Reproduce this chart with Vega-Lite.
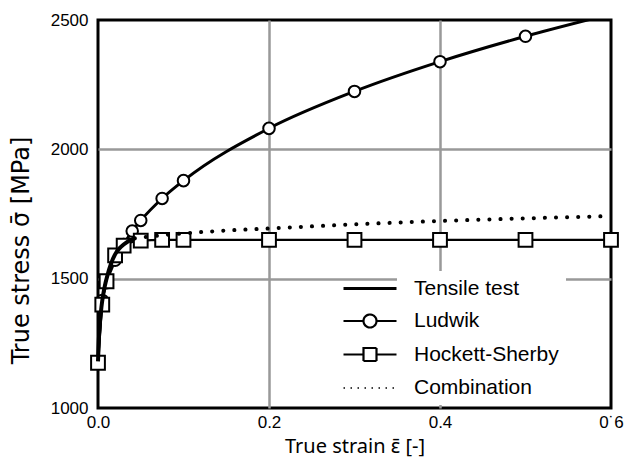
{
  "$schema": "https://vega.github.io/schema/vega-lite/v6.json",
  "width": 513,
  "height": 388,
  "autosize": {"type": "none"},
  "padding": {"left": 98, "top": 20, "right": 14, "bottom": 63},
  "background": "white",
  "config": {"font": "Liberation Sans", "view": {"stroke": "black", "strokeWidth": 3}},
  "data": {
    "values": [
      {"series": "Tensile test", "strain": 0, "stress": 1180},
      {"series": "Tensile test", "strain": 0.001, "stress": 1265},
      {"series": "Tensile test", "strain": 0.002, "stress": 1318},
      {"series": "Tensile test", "strain": 0.004, "stress": 1390},
      {"series": "Tensile test", "strain": 0.006, "stress": 1437},
      {"series": "Tensile test", "strain": 0.008, "stress": 1472},
      {"series": "Tensile test", "strain": 0.01, "stress": 1500},
      {"series": "Tensile test", "strain": 0.015, "stress": 1556},
      {"series": "Tensile test", "strain": 0.02, "stress": 1594},
      {"series": "Tensile test", "strain": 0.025, "stress": 1617},
      {"series": "Tensile test", "strain": 0.03, "stress": 1632},
      {"series": "Tensile test", "strain": 0.035, "stress": 1644},
      {"series": "Tensile test", "strain": 0.04, "stress": 1652},
      {"series": "Tensile test", "strain": 0.043, "stress": 1656},
      {"series": "Ludwik", "strain": 0, "stress": 1180},
      {"series": "Ludwik", "strain": 0.005, "stress": 1416},
      {"series": "Ludwik", "strain": 0.01, "stress": 1484},
      {"series": "Ludwik", "strain": 0.02, "stress": 1571},
      {"series": "Ludwik", "strain": 0.03, "stress": 1632},
      {"series": "Ludwik", "strain": 0.04, "stress": 1684},
      {"series": "Ludwik", "strain": 0.05, "stress": 1725},
      {"series": "Ludwik", "strain": 0.075, "stress": 1810},
      {"series": "Ludwik", "strain": 0.1, "stress": 1879},
      {"series": "Ludwik", "strain": 0.2, "stress": 2081},
      {"series": "Ludwik", "strain": 0.3, "stress": 2224},
      {"series": "Ludwik", "strain": 0.4, "stress": 2339},
      {"series": "Ludwik", "strain": 0.5, "stress": 2437},
      {"series": "Ludwik", "strain": 0.6, "stress": 2523},
      {"series": "Hockett-Sherby", "strain": 0, "stress": 1175},
      {"series": "Hockett-Sherby", "strain": 0.005, "stress": 1400},
      {"series": "Hockett-Sherby", "strain": 0.01, "stress": 1490},
      {"series": "Hockett-Sherby", "strain": 0.02, "stress": 1590},
      {"series": "Hockett-Sherby", "strain": 0.03, "stress": 1628},
      {"series": "Hockett-Sherby", "strain": 0.05, "stress": 1647},
      {"series": "Hockett-Sherby", "strain": 0.075, "stress": 1650},
      {"series": "Hockett-Sherby", "strain": 0.1, "stress": 1650},
      {"series": "Hockett-Sherby", "strain": 0.2, "stress": 1650},
      {"series": "Hockett-Sherby", "strain": 0.3, "stress": 1650},
      {"series": "Hockett-Sherby", "strain": 0.4, "stress": 1650},
      {"series": "Hockett-Sherby", "strain": 0.5, "stress": 1650},
      {"series": "Hockett-Sherby", "strain": 0.6, "stress": 1650},
      {"series": "Combination", "strain": 0.043, "stress": 1656},
      {"series": "Combination", "strain": 0.05, "stress": 1659},
      {"series": "Combination", "strain": 0.075, "stress": 1668},
      {"series": "Combination", "strain": 0.1, "stress": 1675},
      {"series": "Combination", "strain": 0.15, "stress": 1686},
      {"series": "Combination", "strain": 0.2, "stress": 1694},
      {"series": "Combination", "strain": 0.3, "stress": 1710},
      {"series": "Combination", "strain": 0.4, "stress": 1723},
      {"series": "Combination", "strain": 0.5, "stress": 1733},
      {"series": "Combination", "strain": 0.6, "stress": 1742}
    ]
  },
  "encoding": {
    "x": {
      "field": "strain", "type": "quantitative",
      "scale": {"domain": [0, 0.6], "nice": false, "zero": false},
      "axis": {
        "title": "True strain \u03b5\u0304 [-]",
        "values": [0, 0.2, 0.4, 0.6],
        "labelExpr": "datum.value >= 0.59 ? '0\u02d96' : format(datum.value, '.1f')",
        "ticks": false, "domain": false, "grid": true,
        "gridColor": "#999999", "gridWidth": 2.5,
        "gridOpacity": {"condition": {"test": "datum.value <= 0.01 || datum.value >= 0.59", "value": 0}, "value": 1},
        "labelFontSize": 17, "labelColor": "black", "labelPadding": 6, "labelFlush": false,
        "titleFont": "Noto Sans", "titleFontSize": 20, "titleFontWeight": "normal", "titleColor": "black", "titlePadding": 6
      }
    },
    "y": {
      "field": "stress", "type": "quantitative",
      "scale": {"domain": [1000, 2500], "nice": false, "zero": false},
      "axis": {
        "title": "True stress \u03c3\u0304 [MPa]",
        "values": [1000, 1500, 2000, 2500],
        "format": "d",
        "ticks": false, "domain": false, "grid": true,
        "gridColor": "#999999", "gridWidth": 2.5,
        "gridOpacity": {"condition": {"test": "datum.value <= 1000 || datum.value >= 2500", "value": 0}, "value": 1},
        "labelFontSize": 17, "labelColor": "black", "labelPadding": 10,
        "titleFont": "DejaVu Sans", "titleFontSize": 24, "titleFontWeight": "normal", "titleColor": "black",
        "titleX": -70, "titleY": 230, "titleAngle": -90, "titleAlign": "center", "titleBaseline": "alphabetic"
      }
    }
  },
  "layer": [
    {
      "transform": [{"filter": "datum.series === 'Ludwik'"}],
      "mark": {"type": "line", "strokeWidth": 3, "interpolate": "monotone", "clip": true},
      "encoding": {
        "color": {
          "field": "series", "type": "nominal",
          "scale": {"domain": ["Tensile test", "Ludwik", "Hockett-Sherby", "Combination"], "range": ["black", "black", "black", "black"]},
          "legend": {
            "orient": "none", "legendX": 299, "legendY": 251,
            "title": null,
            "padding": 7, "fillColor": "white", "strokeColor": null,
            "symbolSize": 256, "symbolStrokeWidth": 2, "labelOffset": -11, "rowPadding": 10.5,
            "labelFontSize": 21, "labelColor": "black", "labelLimit": 300,
            "encode": {
              "symbols": {
                "update": {
                  "shape": {"signal": "datum.value === 'Ludwik' ? 'M-8.875,0H-6.375M-4.75,0H-2.25M-6.375,0A0.8125,0.8125,0,1,1,-4.75,0A0.8125,0.8125,0,1,1,-6.375,0Z' : datum.value === 'Hockett-Sherby' ? 'M-8.875,0H-6.375M-4.75,0H-2.25M-6.375,-0.8125H-4.75V0.8125H-6.375Z' : 'M-8.875,0H-2.25'"},
                  "fill": {"signal": "datum.value === 'Ludwik' || datum.value === 'Hockett-Sherby' ? '#ffffff' : 'transparent'"},
                  "stroke": {"value": "black"},
                  "strokeWidth": {"signal": "datum.value === 'Tensile test' ? 3 : datum.value === 'Combination' ? 1.5 : 2.2"},
                  "strokeDash": {"signal": "datum.value === 'Combination' ? [1.5, 5.5] : [1, 0]"},
                  "opacity": {"value": 1}
                }
              }
            }
          }
        }
      }
    },
    {
      "transform": [{"filter": "datum.series === 'Ludwik' && datum.stress <= 2500"}],
      "mark": {"type": "point", "shape": "circle", "size": 133, "filled": true, "fill": "white", "stroke": "black", "strokeWidth": 2, "opacity": 1}
    },
    {
      "transform": [{"filter": "datum.series === 'Hockett-Sherby'"}],
      "mark": {"type": "line", "strokeWidth": 2.2, "interpolate": "monotone"},
      "encoding": {
        "color": {
          "field": "series", "type": "nominal",
          "scale": {"domain": ["Tensile test", "Ludwik", "Hockett-Sherby", "Combination"], "range": ["black", "black", "black", "black"]}
        }
      }
    },
    {
      "transform": [{"filter": "datum.series === 'Hockett-Sherby'"}],
      "mark": {"type": "point", "shape": "square", "size": 190, "filled": true, "fill": "white", "stroke": "black", "strokeWidth": 2, "opacity": 1}
    },
    {
      "transform": [{"filter": "datum.series === 'Combination'"}],
      "mark": {"type": "line", "strokeWidth": 4, "strokeDash": [0.1, 11], "strokeCap": "round", "interpolate": "monotone"},
      "encoding": {
        "color": {
          "field": "series", "type": "nominal",
          "scale": {"domain": ["Tensile test", "Ludwik", "Hockett-Sherby", "Combination"], "range": ["black", "black", "black", "black"]}
        }
      }
    },
    {
      "transform": [{"filter": "datum.series === 'Tensile test'"}],
      "mark": {"type": "line", "strokeWidth": 4, "interpolate": "monotone"},
      "encoding": {
        "color": {
          "field": "series", "type": "nominal",
          "scale": {"domain": ["Tensile test", "Ludwik", "Hockett-Sherby", "Combination"], "range": ["black", "black", "black", "black"]}
        }
      }
    }
  ]
}
